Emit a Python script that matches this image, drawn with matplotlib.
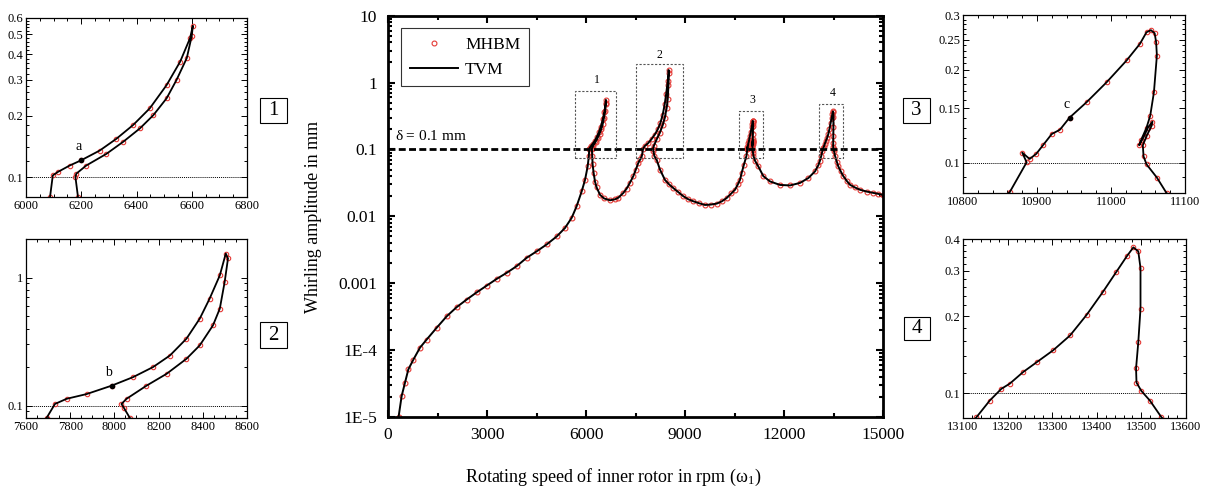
import numpy as np
import matplotlib
matplotlib.use("Agg")
import matplotlib.pyplot as plt
from matplotlib.ticker import FixedLocator, MultipleLocator, NullFormatter, FuncFormatter, LogLocator
from matplotlib.patches import Rectangle

plt.rcParams['font.family'] = ['Liberation Serif', 'DejaVu Serif']
plt.rcParams['mathtext.fontset'] = 'stix'

# ---- frequency response: rotating speed (rpm) vs whirling amplitude (mm) ----
spd_low = [320, 414, 515, 616, 768, 970, 1172, 1475, 1778, 2081, 2384, 2687, 2990,
           3293, 3596, 3899, 4202, 4505, 4808, 5111, 5363, 5566, 5717, 5869, 5970, 6050]
amp_low = [1.0e-5, 2.06e-5, 3.26e-5, 5.15e-5, 7.2e-5, 1.09e-4, 1.44e-4, 2.16e-4, 3.2e-4,
           4.39e-4, 5.7e-4, 7.3e-4, 9.2e-4, 1.16e-3, 1.43e-3, 1.8e-3, 2.4e-3, 3.0e-3,
           3.8e-3, 5.0e-3, 6.7e-3, 9.5e-3, 0.0142, 0.0236, 0.035, 0.0557]

spd_p1 = [6087, 6097, 6115, 6158, 6200, 6267, 6327, 6388, 6448, 6509, 6558, 6594, 6604,
          6600, 6582, 6545, 6509, 6461, 6412, 6352, 6291, 6218, 6182, 6179, 6188]
amp_p1 = [0.080, 0.102, 0.106, 0.114, 0.121, 0.135, 0.154, 0.180, 0.217, 0.282, 0.367,
          0.479, 0.550, 0.490, 0.382, 0.299, 0.243, 0.201, 0.173, 0.149, 0.130, 0.114,
          0.104, 0.100, 0.080]

spd_v1 = [6200, 6230, 6273, 6323, 6424, 6550, 6727, 6880, 6979, 7131, 7232, 7335, 7434,
          7510, 7585, 7650]
amp_v1 = [0.060, 0.045, 0.033, 0.027, 0.021, 0.0185, 0.0174, 0.0180, 0.0190, 0.0224,
          0.026, 0.032, 0.040, 0.050, 0.063, 0.072]

spd_p2 = [7693, 7731, 7784, 7874, 7987, 8085, 8175, 8251, 8326, 8386, 8431, 8477, 8504,
          8514, 8499, 8477, 8446, 8386, 8326, 8236, 8145, 8055, 8032, 8043, 8070]
amp_p2 = [0.080, 0.103, 0.113, 0.123, 0.143, 0.167, 0.200, 0.246, 0.333, 0.477, 0.685,
          1.04, 1.54, 1.41, 0.925, 0.572, 0.423, 0.295, 0.232, 0.177, 0.143, 0.113,
          0.103, 0.096, 0.080]

spd_v2 = [8141, 8242, 8394, 8520, 8646, 8800, 8949, 9100, 9252, 9430, 9606, 9780, 9960,
          10110, 10263, 10400, 10515, 10600, 10666, 10717, 10780]
amp_v2 = [0.070, 0.050, 0.035, 0.030, 0.0265, 0.023, 0.020, 0.018, 0.0168, 0.0157,
          0.0148, 0.0150, 0.0155, 0.0167, 0.0188, 0.022, 0.025, 0.030, 0.035, 0.0444, 0.058]

spd_p3 = [10863, 10886, 10880, 10890, 10899, 10908, 10920, 10931, 10944, 10967, 10994,
          11021, 11039, 11048, 11054, 11059, 11061, 11062, 11058, 11053, 11048, 11041,
          11038, 11044, 11050, 11056, 11055, 11048, 11043, 11044, 11048, 11062, 11075]
amp_p3 = [0.0804, 0.1005, 0.108, 0.103, 0.107, 0.114, 0.124, 0.128, 0.140, 0.157, 0.182,
          0.214, 0.242, 0.264, 0.268, 0.262, 0.245, 0.222, 0.169, 0.142, 0.130, 0.119,
          0.114, 0.121, 0.130, 0.136, 0.132, 0.122, 0.114, 0.105, 0.099, 0.0897, 0.080]

spd_v3 = [11121, 11222, 11373, 11575, 11878, 12181, 12484, 12737, 12939, 13040, 13090]
amp_v3 = [0.068, 0.0557, 0.040, 0.0333, 0.0295, 0.029, 0.0316, 0.0374, 0.047, 0.058, 0.068]

spd_p4 = [13130, 13160, 13186, 13205, 13235, 13265, 13302, 13340, 13377, 13414, 13444,
          13467, 13482, 13493, 13498, 13498, 13493, 13488, 13489, 13500, 13519, 13545]
amp_p4 = [0.0805, 0.0936, 0.104, 0.109, 0.121, 0.132, 0.147, 0.168, 0.202, 0.249, 0.298,
          0.342, 0.371, 0.358, 0.308, 0.214, 0.158, 0.125, 0.110, 0.102, 0.0936, 0.0805]

spd_tail = [13600, 13646, 13720, 13797, 13900, 13999, 14150, 14302, 14500, 14706, 14850, 15000]
amp_tail = [0.066, 0.0557, 0.047, 0.040, 0.034, 0.0297, 0.027, 0.025, 0.0235, 0.0224,
            0.0217, 0.021]

# marked operating points
pt_spd = [6200, 7987, 10944]
pt_amp = [0.121, 0.143, 0.140]
pt_labels = ['a', 'b', 'c']

delta = 0.1  # clearance threshold in mm

speed = np.concatenate([spd_low, spd_p1, spd_v1, spd_p2, spd_v2, spd_p3, spd_v3,
                        spd_p4, spd_tail])
amp = np.concatenate([amp_low, amp_p1, amp_v1, amp_p2, amp_v2, amp_p3, amp_v3,
                      amp_p4, amp_tail])

RED = '#e53935'
W, H = 1213, 491
fig = plt.figure(figsize=(W / 100, H / 100), dpi=100)


def draw_curves(ax, lw=1.4, ms=3.5):
    mh, = ax.plot(speed, amp, ls='none', marker='o', ms=ms, mfc='none', mec=RED,
                  mew=0.8, zorder=2)
    tv, = ax.plot(speed, amp, color='k', lw=lw, zorder=3)
    return mh, tv


# ---------------- main axes ----------------
ax = fig.add_axes([388 / W, 1 - 417 / H, 495 / W, 401.3 / H])
ax.set_yscale('log')
mh, tv = draw_curves(ax)
ax.axhline(delta, color='k', lw=2.0, ls=(0, (2.5, 1.2)), zorder=4)
ax.text(220, 0.125, r'$\mathregular{\delta}$ = 0.1 mm', fontsize=11, ha='left', va='bottom')
ax.set_xlim(0, 15000)
ax.set_ylim(1e-5, 10)
ax.xaxis.set_major_locator(MultipleLocator(3000))
ax.xaxis.set_minor_locator(MultipleLocator(1500))
ax.yaxis.set_major_locator(FixedLocator([1e-5, 1e-4, 1e-3, 1e-2, 0.1, 1, 10]))
ylab = {1e-5: '1E-5', 1e-4: '1E-4', 1e-3: '0.001', 1e-2: '0.01', 0.1: '0.1', 1: '1', 10: '10'}
ax.yaxis.set_major_formatter(FuncFormatter(
    lambda v, p: min(ylab.items(), key=lambda kv: abs(np.log10(kv[0]) - np.log10(v)))[1]))
ax.yaxis.set_minor_locator(LogLocator(base=10, subs=np.arange(2, 10), numticks=20))
ax.yaxis.set_minor_formatter(NullFormatter())
ax.tick_params(which='both', direction='in', top=True, right=True, width=1.5)
ax.tick_params(which='major', length=5)
ax.tick_params(which='minor', length=3)
ax.tick_params(axis='x', labelsize=12.5, pad=7)
ax.tick_params(axis='y', labelsize=12.5, pad=8)
for s in ax.spines.values():
    s.set_linewidth(2.0)

# dashed frames around the four resonance zones
zones = [(5666, 6909, 0.075, 0.75), (7515, 8948, 0.075, 1.88),
         (10645, 11372, 0.075, 0.378), (13069, 13797, 0.075, 0.476)]
zone_lbl = [(6333, 1.1, '1'), (8211, 2.6, '2'), (11030, 0.55, '3'), (13485, 0.70, '4')]
for (x0, x1, y0, y1), (tx, ty, t) in zip(zones, zone_lbl):
    ax.add_patch(Rectangle((x0, y0), x1 - x0, y1 - y0, fill=False, ec='#555555',
                           lw=0.8, ls=(0, (2, 1.5)), zorder=5))
    ax.text(tx, ty, t, fontsize=8.5, ha='center', va='center')

leg = ax.legend([mh, tv], ['MHBM', 'TVM'], loc='upper left', bbox_to_anchor=(0.026, 0.969),
                borderaxespad=0, fontsize=12.5, frameon=True, fancybox=False,
                edgecolor='k', handlelength=2.8, handletextpad=0.4, borderpad=0.5,
                labelspacing=0.5)
leg.get_frame().set_linewidth(0.8)

fig.text(613 / W, 1 - 477 / H, r'Rotating speed of inner rotor in rpm ($\mathregular{\omega_1}$)',
         fontsize=13, ha='center', va='center')
fig.text(314 / W, 1 - 217 / H, 'Whirling amplitude in mm', fontsize=13, rotation=90,
         ha='center', va='center')


# ---------------- zoomed panels ----------------
def inset(px, xlim, ylim, xstep, xminor, yticks, yminor):
    x0, y0, x1, y1 = px
    a = fig.add_axes([x0 / W, 1 - y1 / H, (x1 - x0) / W, (y1 - y0) / H])
    a.set_yscale('log')
    draw_curves(a, lw=1.3, ms=3.2)
    a.axhline(delta, color='k', lw=0.7, ls=(0, (1, 1)), zorder=1)
    a.set_xlim(*xlim)
    a.set_ylim(*ylim)
    a.xaxis.set_major_locator(MultipleLocator(xstep))
    a.xaxis.set_minor_locator(MultipleLocator(xminor))
    a.yaxis.set_major_locator(FixedLocator(yticks))
    a.yaxis.set_major_formatter(FuncFormatter(lambda v, p: f'{v:g}'))
    a.yaxis.set_minor_locator(FixedLocator(yminor))
    a.yaxis.set_minor_formatter(NullFormatter())
    a.tick_params(which='both', direction='in', top=True, right=True, width=0.7,
                  labelsize=9, pad=2)
    a.tick_params(which='major', length=4)
    a.tick_params(which='minor', length=2)
    for s in a.spines.values():
        s.set_linewidth(0.9)
    for xs, ys, t in zip(pt_spd, pt_amp, pt_labels):
        if xlim[0] < xs < xlim[1]:
            a.plot([xs], [ys], 'o', color='k', ms=3, zorder=6)
            a.annotate(t, (xs, ys), xytext=(-2, 5), textcoords='offset points',
                       fontsize=10, ha='center', va='bottom')
    return a


inset((26, 18, 247, 197), (6000, 6800), (0.08, 0.6), 200, 50,
      [0.1, 0.2, 0.3, 0.4, 0.5, 0.6], np.round(np.arange(0.08, 0.6, 0.02), 3))
inset((26, 239, 247, 418), (7600, 8600), (0.08, 2.0), 200, 50,
      [0.1, 1], [0.08, 0.09, 0.2, 0.3, 0.4, 0.5, 0.6, 0.7, 0.8, 0.9, 2.0])
inset((963, 15, 1185, 193), (10800, 11100), (0.08, 0.3), 100, 20,
      [0.1, 0.15, 0.2, 0.25, 0.3], np.round(np.arange(0.08, 0.3, 0.01), 3))
inset((963, 239, 1186, 418), (13100, 13600), (0.08, 0.4), 100, 20,
      [0.1, 0.2, 0.3, 0.4], np.round(np.arange(0.08, 0.4, 0.02), 3))

# numbered tags beside the zoomed panels
tags = [(260, 98, 287, 123, '1'), (260, 322, 287, 348, '2'),
        (903, 98, 930, 123, '3'), (904, 317, 930, 340, '4')]
for x0, y0, x1, y1, t in tags:
    fig.add_artist(Rectangle((x0 / W, 1 - y1 / H), (x1 - x0) / W, (y1 - y0) / H,
                             transform=fig.transFigure, fill=False, ec='k', lw=0.8))
    fig.text((x0 + x1) / 2 / W, 1 - (y0 + y1) / 2 / H, t, fontsize=15,
             ha='center', va='center')

fig.savefig('out.png', dpi=100)
